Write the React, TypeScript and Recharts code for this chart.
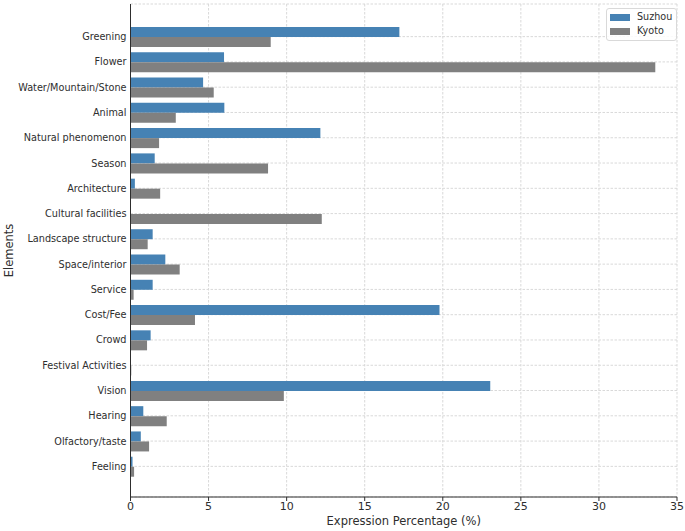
import React from 'react';
import { BarChart, Bar, XAxis, YAxis, CartesianGrid, Legend } from 'recharts';

const categories = [
  'Greening', 'Flower', 'Water/Mountain/Stone', 'Animal', 'Natural phenomenon', 'Season',
  'Architecture', 'Cultural facilities', 'Landscape structure', 'Space/interior', 'Service',
  'Cost/Fee', 'Crowd', 'Festival Activities', 'Vision', 'Hearing', 'Olfactory/taste', 'Feeling',
];
const suzhou = [17.22, 5.99, 4.65, 6.01, 12.16, 1.55, 0.28, 0, 1.42, 2.23, 1.42, 19.79, 1.29, 0, 23.04, 0.82, 0.66, 0.13];
const kyoto = [8.98, 33.61, 5.33, 2.9, 1.83, 8.81, 1.9, 12.25, 1.1, 3.15, 0.2, 4.13, 1.06, 0.05, 9.82, 2.32, 1.19, 0.23];
const xTicks = [0, 5, 10, 15, 20, 25, 30, 35];
const seriesNames = ['Suzhou', 'Kyoto'];
const seriesColors = ['#4682b4', '#808080'];

const data = categories.map((name, i) => ({ name, Suzhou: suzhou[i], Kyoto: kyoto[i] }));

const FONT = 'DejaVu Sans, sans-serif';
const TEXT = '#2e2e2e';

const LegendBox = () => (
  <div
    style={{
      position: 'relative',
      width: 71,
      height: 33,
      boxSizing: 'border-box',
      border: '1px solid #d9d9d9',
      borderRadius: 3,
      background: 'rgba(255,255,255,0.85)',
      fontFamily: FONT,
      fontSize: 9.6,
      color: TEXT,
    }}
  >
    {seriesNames.map((n, i) => (
      <React.Fragment key={n}>
        <div
          style={{
            position: 'absolute',
            left: 3,
            top: 4.5 + i * 14.7,
            width: 20,
            height: 7,
            background: seriesColors[i],
          }}
        />
        <div
          style={{
            position: 'absolute',
            left: 30.5,
            top: 1.5 + i * 14.7,
            lineHeight: '12px',
            whiteSpace: 'nowrap',
          }}
        >
          {n}
        </div>
      </React.Fragment>
    ))}
  </div>
);

const YTick = ({ x, y, payload }: any) => (
  <text
    x={x}
    y={y}
    textAnchor="end"
    dominantBaseline="central"
    fill={TEXT}
    fontSize={9.7}
    fontFamily={FONT}
  >
    {payload.value}
  </text>
);

export default function App() {
  return (
    <div style={{ position: 'absolute', left: 0, top: 0, background: '#fff' }}>
      <BarChart
        width={685}
        height={531}
        data={data}
        layout="vertical"
        margin={{ top: 4, right: 8, left: 0.5, bottom: 0 }}
        barGap={0}
      >
        <CartesianGrid stroke="#d9d9d9" strokeDasharray="2.5 1.5" />
        <XAxis
          type="number"
          domain={[0, 35]}
          ticks={xTicks}
          height={34}
          stroke={TEXT}
          tickSize={4}
          tickMargin={1}
          tick={{ fill: TEXT, fontSize: 11, fontFamily: FONT }}
          label={({ viewBox }: any) => (
            <text
              x={viewBox.x + viewBox.width / 2}
              y={viewBox.y + 28}
              textAnchor="middle"
              fill={TEXT}
              fontSize={11.5}
              fontFamily={FONT}
            >
              Expression Percentage (%)
            </text>
          )}
        />
        <YAxis
          type="category"
          dataKey="name"
          width={130}
          interval={0}
          stroke={TEXT}
          tickLine={false}
          tickSize={0}
          tickMargin={4}
          padding={{ top: 20, bottom: 18 }}
          tick={<YTick />}
          label={({ viewBox }: any) => {
            const x = 13;
            const y = viewBox.y + viewBox.height / 2;
            return (
              <text
                x={x}
                y={y}
                transform={`rotate(-90, ${x}, ${y})`}
                textAnchor="middle"
                fill={TEXT}
                fontSize={11.5}
                fontFamily={FONT}
              >
                Elements
              </text>
            );
          }}
        />
        <Legend
          layout="vertical"
          verticalAlign="middle"
          align="center"
          content={() => <LegendBox />}
          wrapperStyle={{ position: 'absolute', left: 605.5, top: 8, width: 71, height: 33 }}
        />
        <Bar dataKey="Suzhou" fill={seriesColors[0]} barSize={10} isAnimationActive={false} />
        <Bar dataKey="Kyoto" fill={seriesColors[1]} barSize={10} isAnimationActive={false} />
      </BarChart>
    </div>
  );
}
